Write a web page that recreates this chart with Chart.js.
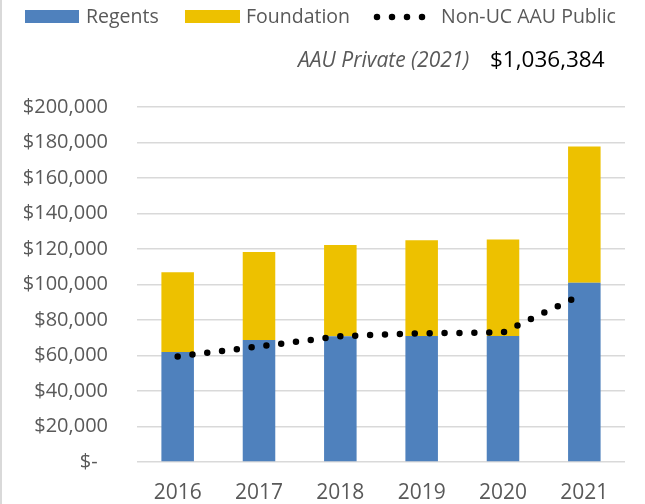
<!DOCTYPE html>
<html>
<head>
<meta charset="utf-8">
<script src="https://cdn.jsdelivr.net/npm/chart.js@4.4.0/dist/chart.umd.min.js"></script>
<style>
  html, body { margin: 0; padding: 0; background: #fff; }
  #wrap { position: relative; width: 645px; height: 504px; }
</style>
</head>
<body>
<div id="wrap"><canvas id="chart" width="645" height="504"></canvas></div>
<script>
// values
const years = ['2016', '2017', '2018', '2019', '2020', '2021'];
const regents = [62000, 68700, 70900, 71000, 71000, 101000];
const foundation = [44900, 49600, 51400, 53900, 54300, 76700];
const nonUcPublic = [59500, 65100, 70900, 72500, 73000, 95000];
const yTicks = [0, 20000, 40000, 60000, 80000, 100000, 120000, 140000, 160000, 180000, 200000];
const aauPrivateLabel = 'AAU Private (2021)';
const aauPrivateValue = '$1,036,384';

const FONT = '"Open Sans", "Noto Sans", sans-serif';
const GREY = '#595959';
const BLUE = '#4f81bd';
const GOLD = '#edc100';

function money(v) {
  if (v === 0) return '$-  ';
  return '$' + v.toLocaleString('en-US');
}

// legend + AAU Private note, drawn by hand (dotted marker isn't a built-in legend style)
const headerPlugin = {
  id: 'header',
  afterDraw(chart) {
    const ctx = chart.ctx;
    ctx.save();
    ctx.fillStyle = '#d9d9d9';
    ctx.fillRect(0, 0, 2, chart.height);

    ctx.font = '19.5px ' + FONT;
    ctx.textBaseline = 'alphabetic';
    ctx.fillStyle = BLUE;
    ctx.fillRect(25, 10, 54, 13);
    ctx.fillStyle = GREY;
    ctx.fillText('Regents', 86, 23);

    ctx.fillStyle = GOLD;
    ctx.fillRect(185, 10, 55, 13);
    ctx.fillStyle = GREY;
    ctx.fillText('Foundation', 246, 23);

    ctx.strokeStyle = '#000';
    ctx.lineWidth = 6.5;
    ctx.lineCap = 'round';
    ctx.setLineDash([0, 15]);
    ctx.beginPath();
    ctx.moveTo(377, 17);
    ctx.lineTo(423, 17);
    ctx.stroke();
    ctx.setLineDash([]);
    ctx.fillText('Non-UC AAU Public', 441, 23);

    ctx.font = 'italic 21px ' + FONT;
    ctx.fillText(aauPrivateLabel, 298, 67);
    ctx.font = '22.5px ' + FONT;
    ctx.fillStyle = '#000';
    ctx.fillText(aauPrivateValue, 490, 67);
    ctx.restore();
  }
};

new Chart(document.getElementById('chart'), {
  data: {
    labels: years,
    datasets: [
      {
        type: 'line',
        label: 'Non-UC AAU Public',
        data: nonUcPublic,
        borderColor: '#000',
        borderWidth: 6.5,
        borderDash: [0, 14.9],
        borderCapStyle: 'round',
        pointRadius: 0,
        tension: 0,
        fill: false,
        stack: 'line',
        order: 0
      },
      {
        type: 'bar',
        label: 'Regents',
        data: regents,
        backgroundColor: BLUE,
        stack: 'bars',
        order: 1
      },
      {
        type: 'bar',
        label: 'Foundation',
        data: foundation,
        backgroundColor: GOLD,
        stack: 'bars',
        order: 1
      }
    ]
  },
  options: {
    responsive: false,
    animation: false,
    devicePixelRatio: 1,
    categoryPercentage: 1,
    barPercentage: 0.4,
    layout: { padding: { top: 107, right: 20, bottom: 0, left: 0 } },
    plugins: {
      legend: { display: false },
      tooltip: { enabled: false }
    },
    scales: {
      x: {
        stacked: true,
        grid: { display: false },
        border: { display: false },
        ticks: { color: GREY, font: { family: FONT, size: 21 }, padding: 10 },
        afterFit(scale) { scale.height = 42; }
      },
      y: {
        stacked: true,
        min: 0,
        max: 200000,
        afterBuildTicks(scale) { scale.ticks = yTicks.map(v => ({ value: v })); },
        grid: { color: '#d9d9d9', lineWidth: 1.5, drawTicks: false },
        border: { display: false },
        ticks: {
          color: GREY,
          font: { family: FONT, size: 20 },
          padding: 29,
          callback: v => money(v)
        },
        afterFit(scale) { scale.width = 137; }
      }
    }
  },
  plugins: [headerPlugin]
});
</script>
</body>
</html>
